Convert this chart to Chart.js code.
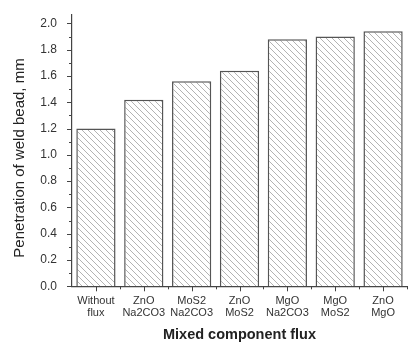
<!DOCTYPE html>
<html>
<head>
<meta charset="utf-8">
<script src="https://cdn.jsdelivr.net/npm/chart.js@4.4.1/dist/chart.umd.min.js"></script>
<style>
  html, body { margin: 0; padding: 0; background: #fff; }
  #wrap { width: 411px; height: 344px; }
</style>
</head>
<body>
<div id="wrap"><canvas id="fluxChart" width="411" height="344"></canvas></div>
<script>
// dados
const categories = [['Without', 'flux'], ['ZnO', 'Na2CO3'], ['MoS2', 'Na2CO3'], ['ZnO', 'MoS2'], ['MgO', 'Na2CO3'], ['MgO', 'MoS2'], ['ZnO', 'MgO']];
const penetration = [1.20, 1.42, 1.56, 1.64, 1.88, 1.90, 1.94];
const yTickLabels = ['0.0', '0.2', '0.4', '0.6', '0.8', '1.0', '1.2', '1.4', '1.6', '1.8', '2.0'];
const yTitle = 'Penetration of weld bead, mm';

const FONT = 'Arial, "Liberation Sans", sans-serif';
const AXIS = '#444';

// hachura diagonal das barras
function hatch() {
  const c = document.createElement('canvas');
  c.width = 6; c.height = 6;
  const g = c.getContext('2d');
  g.fillStyle = '#fff';
  g.fillRect(0, 0, 6, 6);
  g.strokeStyle = '#aaa';
  g.lineWidth = 0.9;
  g.beginPath();
  g.moveTo(0, 0); g.lineTo(6, 6);
  g.moveTo(-3, 3); g.lineTo(3, 9);
  g.moveTo(3, -3); g.lineTo(9, 3);
  g.stroke();
  return g.createPattern(c, 'repeat');
}

// marcas (ticks) maiores e menores + título do eixo Y
const tickMarks = {
  id: 'tickMarks',
  afterDraw(chart) {
    const { ctx, scales: { x, y } } = chart;
    ctx.save();
    ctx.strokeStyle = AXIS;
    ctx.lineWidth = 1;
    ctx.beginPath();
    for (let i = 0; i <= 20; i++) {
      const py = Math.round(y.getPixelForValue(i / 10)) + 0.5;
      const len = i % 2 === 0 ? 5 : 3;
      ctx.moveTo(x.left - len, py); ctx.lineTo(x.left, py);
    }
    const step = x.getPixelForValue(1) - x.getPixelForValue(0);
    categories.forEach((c, i) => {
      const px = Math.round(x.getPixelForValue(i)) + 0.5;
      ctx.moveTo(px, y.bottom); ctx.lineTo(px, y.bottom + 5);
      const pb = Math.round(x.getPixelForValue(i) + step / 2) + 0.5;
      ctx.moveTo(pb, y.bottom); ctx.lineTo(pb, y.bottom + 3);
    });
    ctx.stroke();

    ctx.translate(20, 158);
    ctx.rotate(-Math.PI / 2);
    ctx.fillStyle = '#222';
    ctx.font = '15px ' + FONT;
    ctx.textAlign = 'center';
    ctx.textBaseline = 'middle';
    ctx.fillText(yTitle, 0, 0);
    ctx.restore();
  }
};

const ctx = document.getElementById('fluxChart').getContext('2d');
new Chart(ctx, {
  type: 'bar',
  data: {
    labels: categories,
    datasets: [{
      data: penetration,
      backgroundColor: hatch(),
      borderColor: '#555',
      borderWidth: 1.5,
      barPercentage: 0.82,
      categoryPercentage: 1.0
    }]
  },
  options: {
    responsive: false,
    animation: false,
    layout: { padding: { top: 10, right: 4, left: 5, bottom: 0 } },
    plugins: { legend: { display: false }, tooltip: { enabled: false } },
    scales: {
      x: {
        grid: { display: false },
        border: { display: true, color: AXIS, width: 1.2 },
        ticks: { color: '#333', font: { family: FONT, size: 11, lineHeight: 1.15 }, padding: 0, maxRotation: 0, autoSkip: false },
        title: { display: true, text: 'Mixed component flux', color: '#222', font: { family: FONT, size: 14.5, weight: 'bold' }, padding: { top: 7, bottom: 0 } }
      },
      y: {
        min: 0,
        max: 2.07,
        afterBuildTicks(scale) {
          scale.ticks = yTickLabels.map(v => ({ value: parseFloat(v) }));
        },
        afterFit(scale) { scale.width = 67; },
        grid: { display: false },
        border: { display: true, color: AXIS, width: 1.2 },
        ticks: {
          color: '#333',
          font: { family: FONT, size: 12 },
          padding: 7,
          callback: (v, i) => yTickLabels[i]
        },
        title: { display: false }
      }
    }
  },
  plugins: [tickMarks]
});
</script>
</body>
</html>
